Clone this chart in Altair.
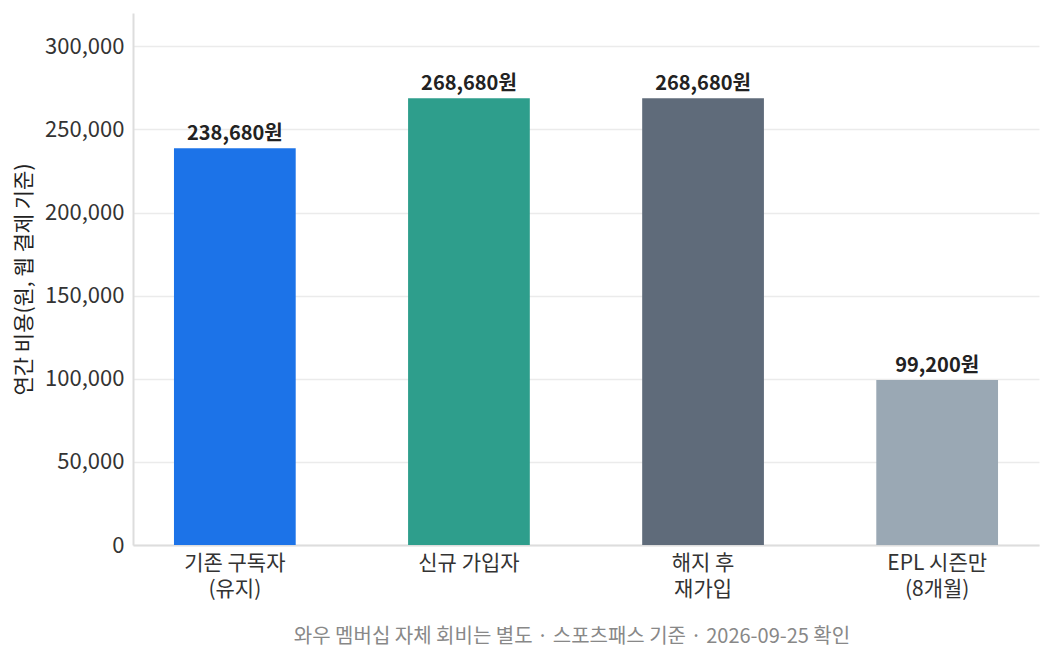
import pandas as pd
import altair as alt

# data
plans = ["기존 구독자\n(유지)", "신규 가입자", "해지 후\n재가입", "EPL 시즌만\n(8개월)"]
annual_cost = [238680, 268680, 268680, 99200]
bar_colors = ["#1c73e8", "#2e9e8c", "#5f6b7a", "#9aa8b4"]
y_ticks = [0, 50000, 100000, 150000, 200000, 250000, 300000]

FONT = "Noto Sans CJK KR"

df = pd.DataFrame({"plan": plans, "cost": annual_cost})
df["label"] = df["cost"].map(lambda v: f"{v:,}원")

base = alt.Chart(df).encode(
    x=alt.X(
        "plan:N",
        sort=plans,
        title=None,
        scale=alt.Scale(paddingInner=0.48, paddingOuter=0.175),
        axis=alt.Axis(
            labelExpr="split(datum.label, '\\n')",
            labelAngle=0,
            labelFontSize=21,
            labelColor="#333333",
            labelPadding=7,
            labelLineHeight=26,
            ticks=False,
            domainColor="#dddddd",
            domainWidth=2,
            grid=False,
        ),
    ),
    y=alt.Y(
        "cost:Q",
        title="연간 비용(원, 웹 결제 기준)",
        scale=alt.Scale(domain=[0, 320000], nice=False),
        axis=alt.Axis(
            values=y_ticks,
            format=",d",
            labelFontSize=22,
            labelColor="#333333",
            labelPadding=9,
            titleFontSize=21,
            titleFontWeight="normal",
            titleColor="#222222",
            titlePadding=10,
            ticks=False,
            domainColor="#dddddd",
            domainWidth=2,
            gridColor="#ebebeb",
            gridWidth=1.5,
        ),
    ),
)

bars = base.mark_bar().encode(
    color=alt.Color("plan:N", scale=alt.Scale(domain=plans, range=bar_colors), legend=None)
)

labels = base.mark_text(baseline="bottom", dy=-4, fontSize=20, fontWeight="bold", color="#222222").encode(
    text="label:N"
)

chart = (bars + labels).properties(
    width=906,
    height=532,
    title=alt.TitleParams(
        text="와우 멤버십 자체 회비는 별도 · 스포츠패스 기준 · 2026-09-25 확인",
        orient="bottom",
        anchor="middle",
        fontSize=20,
        fontWeight="normal",
        color="#888888",
        offset=28,
        dx=-14,
    ),
).configure(
    font=FONT
).configure_view(
    stroke=None
)

chart.save("out.html", embed_options={"renderer": "svg", "actions": False})
